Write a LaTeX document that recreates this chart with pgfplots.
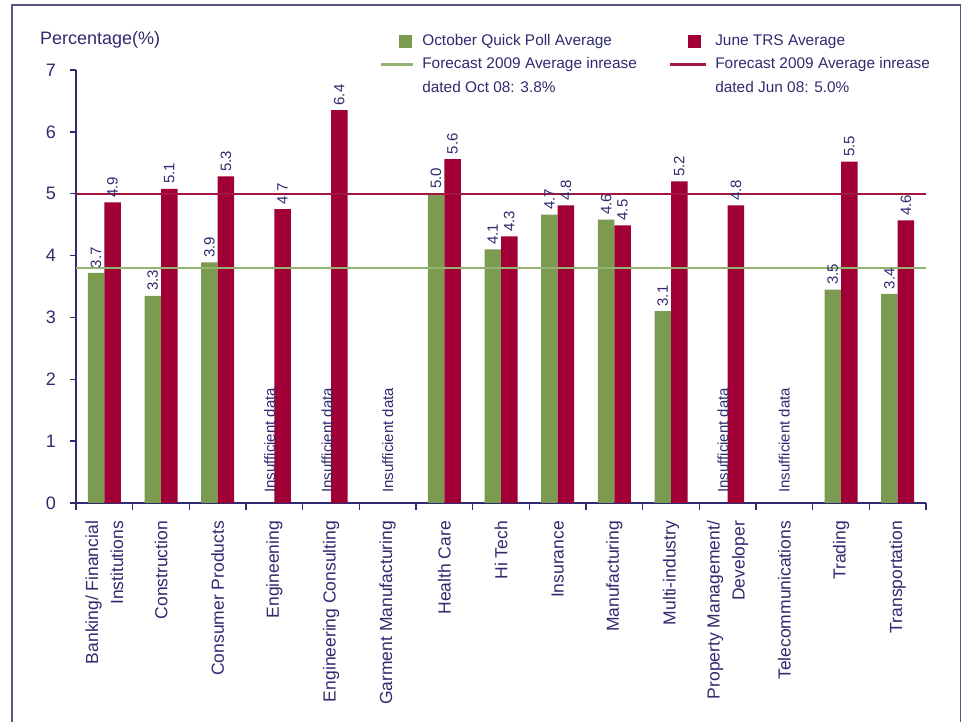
\documentclass[border=0pt]{standalone}
\usepackage{fontspec}
\setmainfont{Liberation Sans}
\usepackage{pgfplots}
\usepackage{pgfplotstable}
\pgfplotsset{compat=1.18}
\definecolor{txt}{HTML}{2E2B6E}
\definecolor{gbar}{HTML}{7A9B50}
\definecolor{rbar}{HTML}{A10036}
\definecolor{gline}{HTML}{94B373}
\definecolor{rline}{HTML}{A3173F}
\definecolor{framec}{HTML}{5B5585}
\pgfplotstableread{
x y l
0 3.72 3.7
1 3.35 3.3
2 3.89 3.9
6 5.00 5.0
7 4.10 4.1
8 4.66 4.7
9 4.58 4.6
10 3.10 3.1
13 3.45 3.5
14 3.38 3.4
}\green
\pgfplotstableread{
x y l
0 4.86 4.9
1 5.08 5.1
2 5.28 5.3
3 4.75 4.7
4 6.35 6.4
6 5.56 5.6
7 4.31 4.3
8 4.81 4.8
9 4.49 4.5
10 5.20 5.2
11 4.81 4.8
13 5.52 5.5
14 4.57 4.6
}\red
\tikzset{insuf/.style={rotate=90, anchor=west, font=\fontsize{7.5}{9}\selectfont, text=txt, inner sep=0pt}}
\pgfplotsset{vallabels/.style={forget plot, only marks, mark=*, mark size=0pt, mark options={draw=none, fill=none},
  nodes near coords, point meta=explicit symbolic,
  nodes near coords style={rotate=90, anchor=west, font=\fontsize{7.5}{9}\selectfont, text=txt, inner sep=2.2pt}}}
\begin{document}
\begin{tikzpicture}
\useasboundingbox (0,0) rectangle (482.5pt,361pt);
\begin{axis}[
  at={(38pt,109.5pt)}, anchor=south west,
  scale only axis, width=425pt, height=216.5pt,
  xmin=-0.5, xmax=14.5, ymin=0, ymax=7,
  axis x line=bottom, axis y line=left,
  axis line style={-, txt, line width=0.75pt},
  ytick={0,...,7},
  xtick={0,...,14},
  xticklabels={{Banking/ Financial\\Institutions},Construction,Consumer Products,Engineening,Engineering Consulting,Garment Manufacturing,Health Care,Hi Tech,Insurance,Manufacturing,Multi-industry,{Property Management/\\Developer},Telecommunications,Trading,Transportation},
  minor xtick={-0.5,0.5,...,14.5},
  tick align=outside, major tick length=3pt, minor tick length=3.5pt,
  tick style={txt, line width=0.75pt},
  major x tick style={draw=none},
  /pgf/number format/assume math mode=true,
  yticklabel style={xshift=-3.5pt, font=\fontsize{9}{10}\selectfont, text=txt},
  xticklabel style={yshift=-2.5pt, rotate=90, anchor=east, align=right, font=\fontsize{8.75}{12.5}\selectfont, text=txt},
  ylabel={Percentage(\%)},
  ylabel style={rotate=-90, at={(axis description cs:-0.0506,1.069)}, anchor=west, font=\fontsize{9}{11}\selectfont, text=txt},
  bar width=8.25pt,
  clip=false,
  legend columns=2,
  legend style={at={(axis description cs:0.350,1.1016)}, anchor=north west, draw=none, fill=none,
    font=\fontsize{7.7}{12}\selectfont, text=txt, cells={align=left, anchor=west},
    /tikz/every odd column/.append style={column sep=2pt},
    /tikz/every even column/.append style={column sep=14pt},
    row sep=0.5pt},
]
\addplot[ybar, bar shift=-4.125pt, fill=gbar, draw=none,
  legend image code/.code={\fill[gbar] (9pt,-3.25pt) rectangle (15.5pt,3.25pt);}]
  table[x=x, y=y] {\green};
\addlegendentry{October Quick Poll Average}
\addplot[ybar, bar shift=4.125pt, fill=rbar, draw=none,
  legend image code/.code={\fill[rbar] (9pt,-3.25pt) rectangle (15.5pt,3.25pt);}]
  table[x=x, y=y] {\red};
\addlegendentry{June TRS Average}
\addplot[gline, line width=0.9pt, sharp plot,
  legend image code/.code={\draw[gline, line width=1.2pt] (0pt,6pt) -- (16pt,6pt);}]
  coordinates {(-0.5,3.8) (14.5,3.8)};
\addlegendentry{Forecast 2009 Average inrease\\dated Oct 08: 3.8\%}
\addplot[rline, line width=0.9pt, sharp plot,
  legend image code/.code={\draw[rline, line width=1.2pt] (0pt,6pt) -- (18pt,6pt);}]
  coordinates {(-0.5,5.0) (14.5,5.0)};
\addlegendentry{Forecast 2009 Average inrease\\dated Jun 08: 5.0\%}
\addplot[vallabels] table[x expr=\thisrow{x}-0.1456, y=y, meta=l] {\green};
\addplot[vallabels] table[x expr=\thisrow{x}+0.1456, y=y, meta=l] {\red};
\node[insuf] at (axis cs:2.92,0.16) {Insufficient data};
\node[insuf] at (axis cs:3.93,0.16) {Insufficient data};
\node[insuf] at (axis cs:5.0,0.16) {Insufficient data};
\node[insuf] at (axis cs:10.92,0.16) {Insufficient data};
\node[insuf] at (axis cs:12.0,0.16) {Insufficient data};
\end{axis}
\draw[framec, line width=0.75pt] (6pt,-1pt) -- (6pt,358.5pt) -- (480.25pt,358.5pt) -- (480.25pt,-1pt);
\end{tikzpicture}
\end{document}
